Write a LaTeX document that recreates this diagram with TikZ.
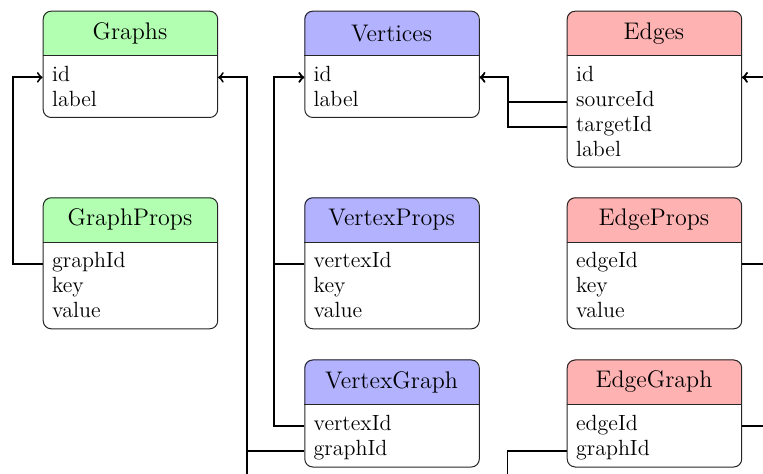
\documentclass[tikz,border=0pt]{standalone}
\usetikzlibrary{calc}
\newcommand\ertable[7]{%
  \begin{scope}
    \clip[rounded corners=4pt] (#2,#3) rectangle ++(174.5,#5-#3);
    \fill[#6] (#2,#3) rectangle (#2+174.5,#4);
  \end{scope}
  \draw[boxline] (#2,#4) -- (#2+174.5,#4);
  \node[draw, boxline, rounded corners=4pt, minimum width=87.25pt,
        minimum height={(#5-#3)*0.5pt}, anchor=north west, inner sep=0pt] (#1) at (#2,#3) {};
  \node[headtext] (#1-title) at (#2+87.25, {(#3+#4)/2}) {#7};
}
\newcommand\errow[4]{\node[rowtext] (#1) at (#2,#3) {#4};}
\begin{document}
\begin{tikzpicture}[x=0.5pt,y=-0.5pt,
  boxline/.style={line width=0.5pt, draw=black!85},
  conn/.style={line width=0.95pt, draw=black},
  headtext/.style={font=\fontsize{12}{14}\selectfont, inner sep=0pt},
  rowtext/.style={font=\fontsize{11}{12.5}\selectfont, anchor=base west,
                  inner xsep=4.5pt, inner ysep=0pt, text width=78.25pt, align=left}]
\useasboundingbox (0,0) rectangle (763,474);
\clip (0,0) rectangle (763,474);

% tables
\ertable{G}{42.7}{10.7}{56}{117}{green!30}{Graphs}
\ertable{V}{304.3}{10.7}{56}{117}{blue!30}{Vertices}
\ertable{E}{566.7}{10.7}{56}{166.7}{red!30}{Edges}
\ertable{GP}{42.7}{197.3}{242.3}{328.3}{green!30}{GraphProps}
\ertable{VP}{304.3}{197.3}{242.3}{328.3}{blue!30}{VertexProps}
\ertable{EP}{566.7}{197.3}{242.3}{328.3}{red!30}{EdgeProps}
\ertable{VG}{304.3}{359.5}{404.5}{466.5}{blue!30}{VertexGraph}
\ertable{EG}{566.7}{359.5}{404.5}{466.5}{red!30}{EdgeGraph}

% rows
\errow{G-id}{42.7}{81.7}{id}
\errow{G-label}{42.7}{106.7}{label}
\errow{V-id}{304.3}{81.7}{id}
\errow{V-label}{304.3}{106.7}{label}
\errow{E-id}{566.7}{81.7}{id}
\errow{E-sourceId}{566.7}{106.7}{sourceId}
\errow{E-targetId}{566.7}{131.7}{targetId}
\errow{E-label}{566.7}{156.7}{label}
\errow{GP-graphId}{42.7}{268}{graphId}
\errow{GP-key}{42.7}{293}{key}
\errow{GP-value}{42.7}{318}{value}
\errow{VP-vertexId}{304.3}{268}{vertexId}
\errow{VP-key}{304.3}{293}{key}
\errow{VP-value}{304.3}{318}{value}
\errow{EP-edgeId}{566.7}{268}{edgeId}
\errow{EP-key}{566.7}{293}{key}
\errow{EP-value}{566.7}{318}{value}
\errow{VG-vertexId}{304.3}{430.2}{vertexId}
\errow{VG-graphId}{304.3}{455.2}{graphId}
\errow{EG-edgeId}{566.7}{430.2}{edgeId}
\errow{EG-graphId}{566.7}{455.2}{graphId}

% connectors
\coordinate (gdown) at (246.7,500);
\coordinate (edown) at (507.5,500);
\draw[conn,->] (GP-graphId.mid west) -- ++(-30,0) |- (G-id.mid west);
\draw[conn,->] (VG-graphId.mid west) -- ++(-57.6,0) |- (G-id.mid east);
\draw[conn] (gdown) -- (gdown |- VG-graphId.mid west);
\draw[conn,->] (VP-vertexId.mid west) -- ++(-30,0) |- (V-id.mid west);
\draw[conn,->] (VG-vertexId.mid west) -- ++(-30,0) |- (V-id.mid west);
\draw[conn,->] (E-sourceId.mid west) -- ++(-58.7,0) |- (V-id.mid east);
\draw[conn,->] (E-targetId.mid west) -- ++(-58.7,0) |- (V-id.mid east);
\draw[conn] (EG-graphId.mid west) -| (edown);
\draw[conn,->] (EP-edgeId.mid east) -- ++(45,0) |- (E-id.mid east);
\draw[conn,->] (EG-edgeId.mid east) -- ++(45,0) |- (E-id.mid east);
\end{tikzpicture}
\end{document}
